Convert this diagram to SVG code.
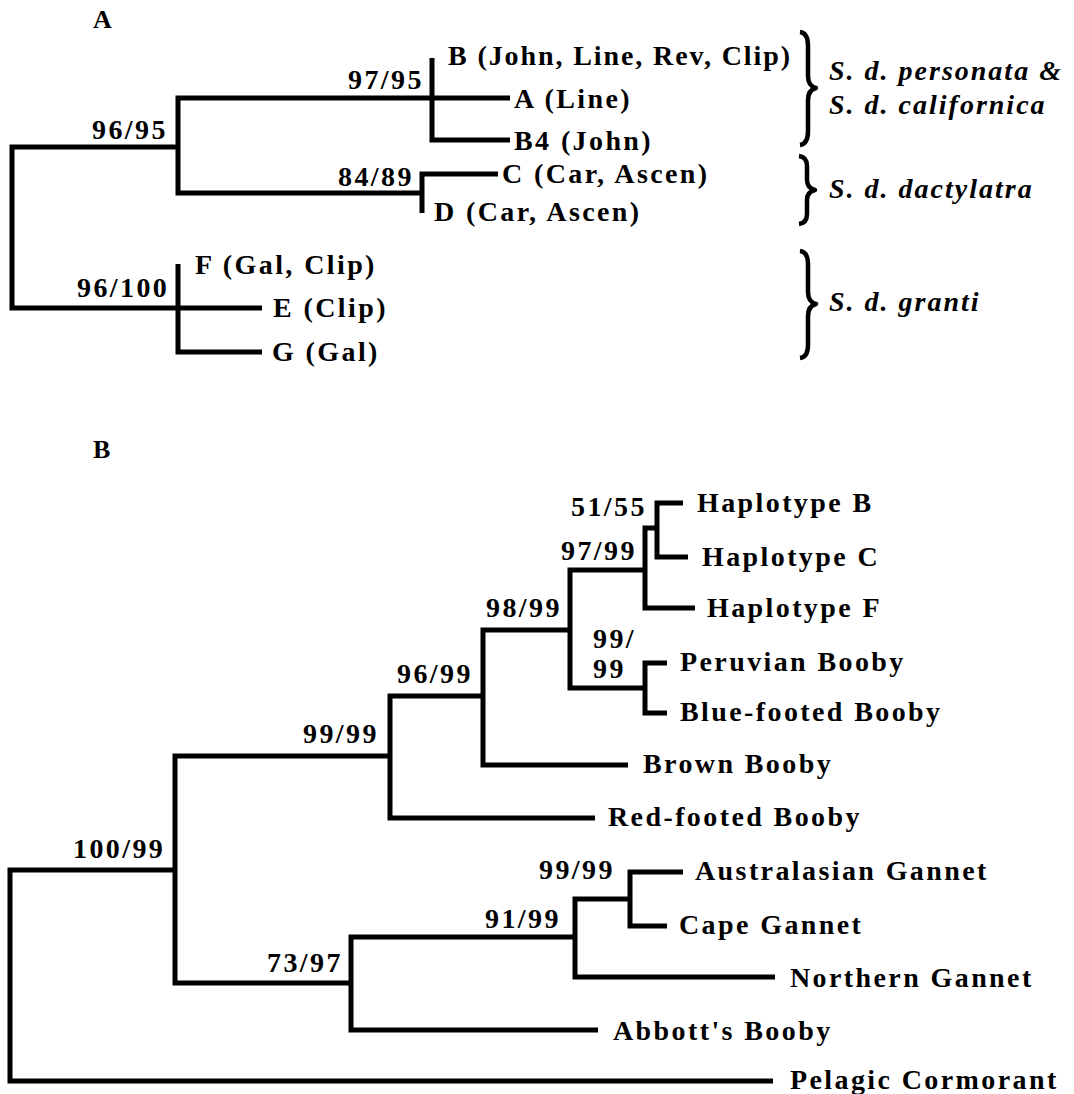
<svg xmlns="http://www.w3.org/2000/svg" width="1074" height="1094" viewBox="0 0 1074 1094">
<style>
  text { font-family: "Liberation Serif", "Times New Roman", serif; font-weight: bold; font-size: 28px; letter-spacing: 2.4px; fill: #000; }
  .it { font-style: italic; letter-spacing: 2px; }
  .pl { font-size: 26px; letter-spacing: 0; }
  .tight { letter-spacing: 1.9px; }
  .br { fill: none; stroke: #000; stroke-width: 5; stroke-linejoin: miter; stroke-linecap: butt; }
  .brace { fill: none; stroke: #000; stroke-width: 4.5; stroke-linecap: butt; stroke-linejoin: round; }
</style>
<rect width="1074" height="1094" fill="#fff"/>

<!-- Panel A -->
<text class="pl" x="93" y="28">A</text>

<g id="connectors">
  <!-- Panel A -->
  <path class="br" d="M178,147 H12 V308 H178"/>
  <path class="br" d="M432,98 H178 V193 H422"/>
  <path class="br" d="M432,58 V140 H510 M432,98 H510"/>
  <path class="br" d="M498,174 H422 V213"/>
  <path class="br" d="M178,264 V352 H262 M178,308 H262"/>
  <!-- Panel B -->
  <path class="br" d="M175,870 H10 V1081 H773"/>
  <path class="br" d="M390,756 H175 V983 H351"/>
  <path class="br" d="M483,696 H390 V818 H595"/>
  <path class="br" d="M570,630 H483 V765 H628"/>
  <path class="br" d="M645,570 H570 V688 H645"/>
  <path class="br" d="M657,528 H645 V608 H695"/>
  <path class="br" d="M683,503 H657 V557 H688"/>
  <path class="br" d="M667,663 H645 V713 H667"/>
  <path class="br" d="M575,937 H351 V1030 H598"/>
  <path class="br" d="M630,899 H575 V977 H775"/>
  <path class="br" d="M683,872 H630 V926 H667"/>
</g>

<!-- Panel A nodes -->
<g id="node-A-root"><text x="92" y="139">96/95</text></g>
<g id="node-A-9795"><text x="348" y="89">97/95</text></g>
<g id="node-A-8489"><text x="338" y="186">84/89</text></g>
<g id="node-A-96100"><text x="77" y="297">96/100</text></g>

<g id="taxon-B"><text class="tight" x="448" y="65">B (John, Line, Rev, Clip)</text></g>
<g id="taxon-A"><text x="514" y="108">A (Line)</text></g>
<g id="taxon-B4"><text x="514" y="150">B4 (John)</text></g>
<g id="taxon-C"><text x="502" y="183">C (Car, Ascen)</text></g>
<g id="taxon-D"><text x="434" y="221">D (Car, Ascen)</text></g>
<g id="taxon-F"><text x="195" y="274">F (Gal, Clip)</text></g>
<g id="taxon-E"><text x="273" y="317">E (Clip)</text></g>
<g id="taxon-G"><text x="272" y="361">G (Gal)</text></g>

<g id="group-personata">
  <path class="brace" d="M800,32 Q808,33 808,46 V76 Q808,86 816,88 Q808,90 808,100 V131 Q808,144 800,145"/>
  <text class="it" x="829" y="80">S. d. personata &amp;</text>
  <text class="it" x="829" y="114">S. d. californica</text>
</g>
<g id="group-dactylatra">
  <path class="brace" d="M799,156 Q807,157 807,166 V180 Q807,188 815,190 Q807,192 807,200 V214 Q807,223 799,224"/>
  <text class="it" x="829" y="198">S. d. dactylatra</text>
</g>
<g id="group-granti">
  <path class="brace" d="M800,251 Q808,252 808,264 V292 Q808,302 816,304 Q808,306 808,316 V345 Q808,357 800,358"/>
  <text class="it" x="829" y="311">S. d. granti</text>
</g>

<!-- Panel B -->
<text class="pl" x="93" y="458">B</text>

<g id="node-B-root"><text x="73" y="858">100/99</text></g>
<g id="node-B-9999a"><text x="303" y="743">99/99</text></g>
<g id="node-B-9699"><text x="397" y="683">96/99</text></g>
<g id="node-B-9899"><text x="486" y="617">98/99</text></g>
<g id="node-B-9799"><text x="561" y="560">97/99</text></g>
<g id="node-B-5155"><text x="571" y="516">51/55</text></g>
<g id="node-B-9999b"><text x="593" y="648">99/</text><text x="593" y="678">99</text></g>
<g id="node-B-7397"><text x="267" y="972">73/97</text></g>
<g id="node-B-9199"><text x="485" y="928">91/99</text></g>
<g id="node-B-9999c"><text x="539" y="879">99/99</text></g>

<g id="taxon-hapB"><text x="697" y="512">Haplotype B</text></g>
<g id="taxon-hapC"><text x="702" y="566">Haplotype C</text></g>
<g id="taxon-hapF"><text x="707" y="617">Haplotype F</text></g>
<g id="taxon-peruvian"><text x="680" y="671">Peruvian Booby</text></g>
<g id="taxon-bluefooted"><text x="680" y="721">Blue-footed Booby</text></g>
<g id="taxon-brown"><text x="643" y="773">Brown Booby</text></g>
<g id="taxon-redfooted"><text x="608" y="826">Red-footed Booby</text></g>
<g id="taxon-australasian"><text x="695" y="880">Australasian Gannet</text></g>
<g id="taxon-cape"><text x="679" y="934">Cape Gannet</text></g>
<g id="taxon-northern"><text x="790" y="987">Northern Gannet</text></g>
<g id="taxon-abbott"><text x="613" y="1040">Abbott's Booby</text></g>
<g id="taxon-pelagic"><text x="790" y="1089">Pelagic Cormorant</text></g>
</svg>
